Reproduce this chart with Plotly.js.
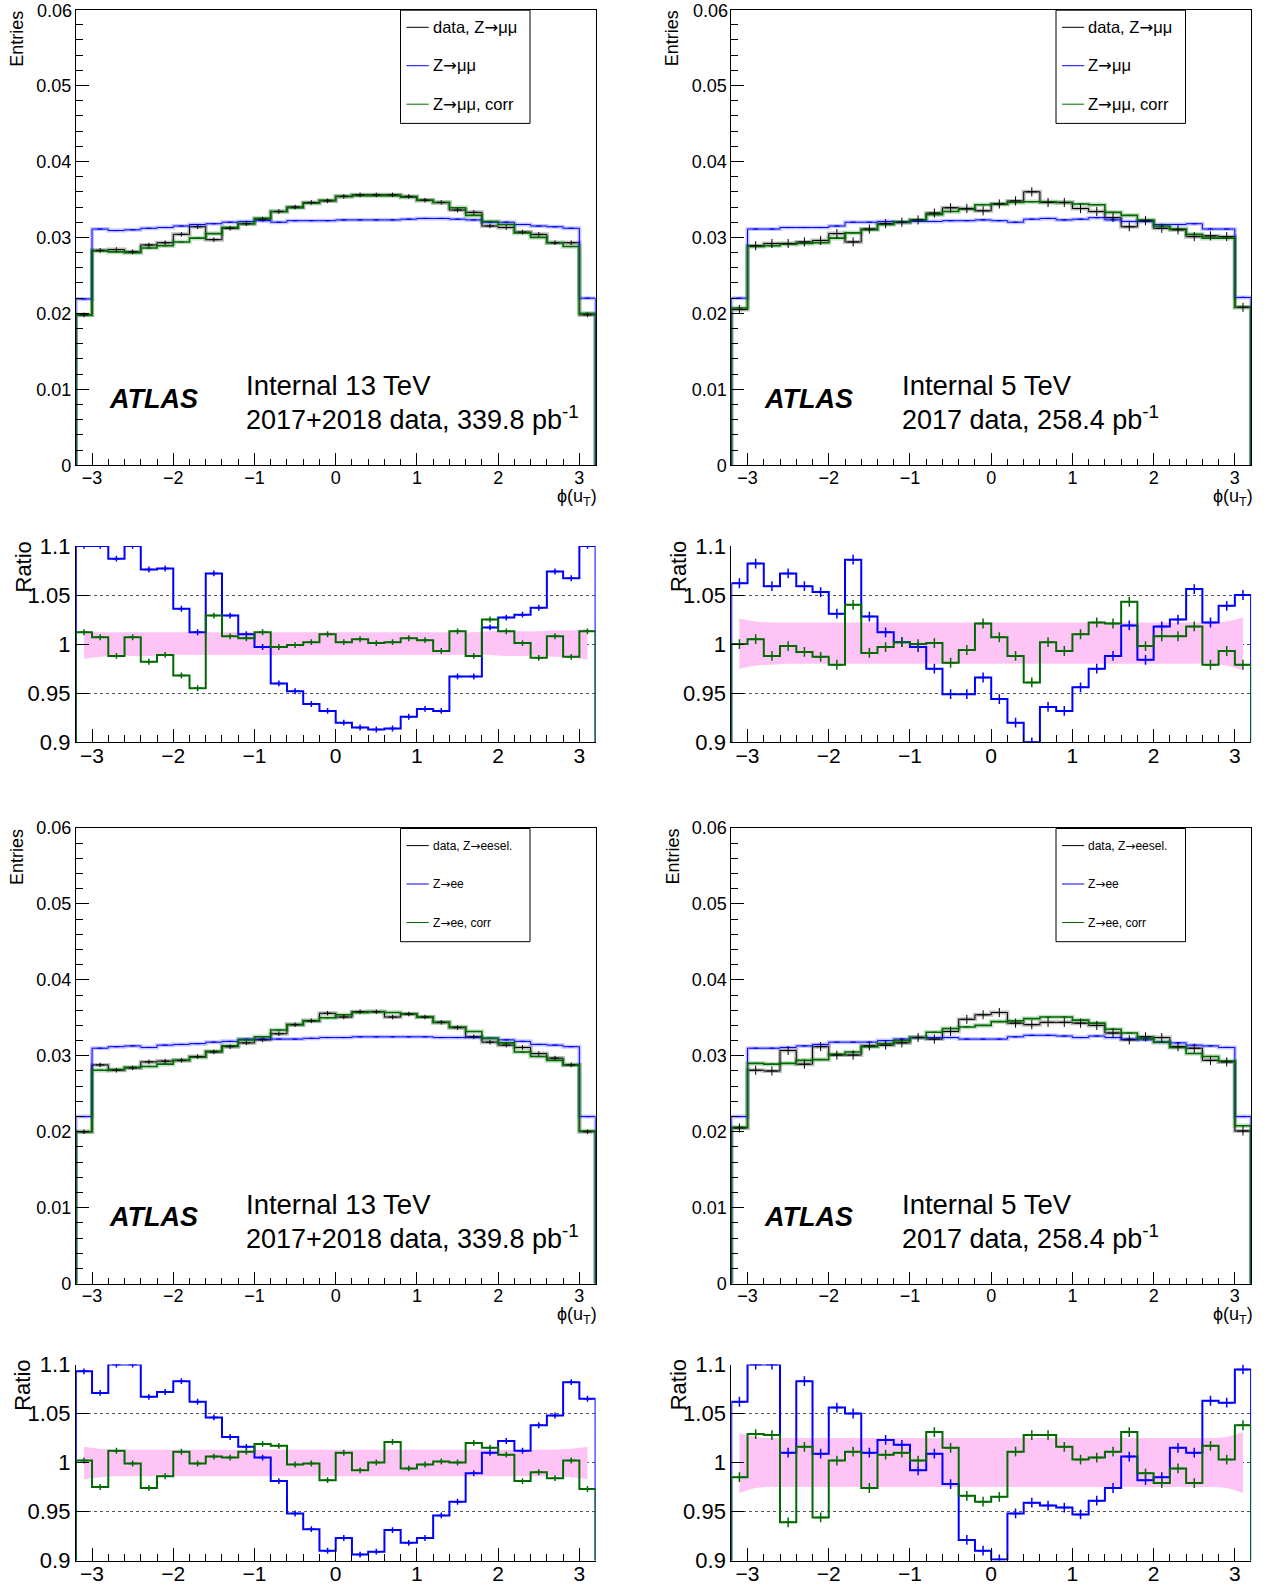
<!DOCTYPE html>
<html>
<head>
<meta charset="utf-8">
<script src="https://cdn.plot.ly/plotly-3.0.1.min.js"></script>
<style>html,body{margin:0;padding:0;background:#fff;}#chart{width:1270px;height:1586px;}</style>
</head>
<body>
<div id="chart"></div>
<script>
// ---------- bins ----------
const phiBinEdges = [-3.2,-3.0,-2.8,-2.6,-2.4,-2.2,-2.0,-1.8,-1.6,-1.4,-1.2,-1.0,-0.8,-0.6,-0.4,-0.2,0,0.2,0.4,0.6,0.8,1.0,1.2,1.4,1.6,1.8,2.0,2.2,2.4,2.6,2.8,3.0,3.2];
const phiBinCenters = [-3.1,-2.9,-2.7,-2.5,-2.3,-2.1,-1.9,-1.7,-1.5,-1.3,-1.1,-0.9,-0.7,-0.5,-0.3,-0.1,0.1,0.3,0.5,0.7,0.9,1.1,1.3,1.5,1.7,1.9,2.1,2.3,2.5,2.7,2.9,3.1];
const mainTickVals = [0,0.01,0.02,0.03,0.04,0.05,0.06];
const mainTickText = ["0","0.01","0.02","0.03","0.04","0.05","0.06"];

// ---------- Z->mumu, 13 TeV ----------
const mm13_data = [0.0198,0.0283,0.0284,0.0281,0.0290,0.0293,0.0304,0.0314,0.0297,0.0312,0.0318,0.0324,0.0334,0.0340,0.0346,0.0348,0.0354,0.0356,0.0356,0.0356,0.0354,0.0349,0.0346,0.0336,0.0333,0.0315,0.0313,0.0307,0.0304,0.0293,0.0293,0.0198];
const mm13_mc   = [0.0219,0.0311,0.0309,0.0310,0.0312,0.0313,0.0315,0.0317,0.0318,0.0320,0.0321,0.0322,0.0320,0.0322,0.0322,0.0322,0.0323,0.0323,0.0323,0.0323,0.0324,0.0325,0.0325,0.0324,0.0323,0.0320,0.0320,0.0317,0.0315,0.0314,0.0312,0.0220];
const mm13_corr = [0.0198,0.0282,0.0281,0.0280,0.0286,0.0289,0.0294,0.0299,0.0305,0.0313,0.0318,0.0325,0.0334,0.0339,0.0345,0.0349,0.0354,0.0355,0.0355,0.0355,0.0353,0.0349,0.0346,0.0339,0.0329,0.0321,0.0317,0.0306,0.0300,0.0293,0.0288,0.0200];
const mm13_ratioMC   = [1.1,1.1,1.087,1.1,1.076,1.077,1.036,1.012,1.072,1.029,1.010,0.997,0.960,0.952,0.939,0.932,0.920,0.915,0.913,0.914,0.926,0.934,0.932,0.967,0.967,1.017,1.027,1.030,1.037,1.074,1.067,1.1];
const mm13_ratioCorr = [1.012,1.007,0.988,1.007,0.982,0.989,0.968,0.955,1.029,1.008,1.006,1.012,0.997,0.999,1.002,1.010,1.002,1.005,1.001,1.002,1.006,1.004,0.993,1.013,0.988,1.025,1.013,1.001,0.986,1.008,0.987,1.013];
const mm13_bandUp = [1.013,1.012,1.012,1.012,1.012,1.012,1.012,1.012,1.012,1.012,1.012,1.012,1.012,1.012,1.012,1.012,1.012,1.012,1.012,1.012,1.012,1.012,1.012,1.012,1.012,1.013,1.013,1.013,1.013,1.014,1.014,1.016];
const mm13_bandDn = [0.985,0.987,0.988,0.988,0.988,0.989,0.989,0.989,0.989,0.989,0.989,0.989,0.989,0.989,0.989,0.989,0.989,0.989,0.989,0.989,0.989,0.989,0.989,0.989,0.989,0.989,0.988,0.988,0.988,0.987,0.986,0.984];

// ---------- Z->mumu, 5 TeV ----------
const mm5_data = [0.0205,0.0289,0.0292,0.0292,0.0294,0.0296,0.0305,0.0294,0.0311,0.0318,0.0320,0.0323,0.0332,0.0339,0.0338,0.0335,0.0344,0.0348,0.0360,0.0346,0.0346,0.0338,0.0334,0.0326,0.0314,0.0322,0.0312,0.0310,0.0301,0.0302,0.0301,0.0208];
const mm5_mc   = [0.0220,0.0311,0.0311,0.0313,0.0313,0.0313,0.0315,0.0320,0.0320,0.0321,0.0320,0.0321,0.0321,0.0322,0.0322,0.0323,0.0322,0.0320,0.0324,0.0325,0.0323,0.0324,0.0326,0.0323,0.0321,0.0321,0.0317,0.0317,0.0318,0.0311,0.0311,0.0221];
const mm5_corr = [0.0207,0.0288,0.0289,0.0291,0.0292,0.0293,0.0299,0.0306,0.0310,0.0317,0.0320,0.0323,0.0330,0.0334,0.0337,0.0343,0.0344,0.0346,0.0347,0.0347,0.0346,0.0344,0.0343,0.0333,0.0329,0.0323,0.0315,0.0311,0.0304,0.0299,0.0299,0.0208];
const mm5_ratioMC   = [1.062,1.082,1.059,1.072,1.059,1.053,1.031,1.086,1.028,1.012,1.002,0.997,0.975,0.949,0.949,0.966,0.944,0.920,0.9,0.936,0.932,0.956,0.975,0.988,1.019,0.984,1.018,1.025,1.056,1.022,1.039,1.050];
const mm5_ratioCorr = [1.0,1.005,0.988,0.998,0.992,0.987,0.979,1.040,0.991,0.997,1.002,1.0,1.001,0.981,0.994,1.021,1.007,0.988,0.961,1.002,0.993,1.010,1.022,1.021,1.043,0.998,1.008,1.008,1.018,0.979,0.993,0.979];
const mm5_bandUp = [1.026,1.023,1.022,1.022,1.022,1.022,1.022,1.022,1.022,1.022,1.022,1.022,1.022,1.022,1.022,1.022,1.022,1.022,1.022,1.022,1.022,1.022,1.022,1.022,1.022,1.022,1.022,1.022,1.022,1.022,1.023,1.027];
const mm5_bandDn = [0.975,0.978,0.979,0.980,0.980,0.980,0.980,0.980,0.980,0.980,0.980,0.980,0.980,0.980,0.980,0.980,0.980,0.980,0.980,0.980,0.980,0.980,0.980,0.980,0.980,0.980,0.980,0.980,0.980,0.980,0.978,0.973];

// ---------- Z->ee, 13 TeV ----------
const ee13_data = [0.0200,0.0288,0.0281,0.0284,0.0292,0.0293,0.0294,0.0299,0.0305,0.0312,0.0317,0.0321,0.0329,0.0341,0.0346,0.0356,0.0351,0.0358,0.0358,0.0351,0.0355,0.0351,0.0344,0.0337,0.0325,0.0318,0.0314,0.0311,0.0303,0.0297,0.0288,0.0200];
const ee13_mc   = [0.0220,0.0310,0.0312,0.0313,0.0311,0.0314,0.0315,0.0316,0.0318,0.0319,0.0322,0.0322,0.0322,0.0322,0.0323,0.0324,0.0324,0.0325,0.0325,0.0325,0.0325,0.0325,0.0324,0.0324,0.0324,0.0323,0.0321,0.0319,0.0315,0.0314,0.0312,0.0220];
const ee13_corr = [0.0200,0.0281,0.0282,0.0285,0.0286,0.0289,0.0294,0.0298,0.0306,0.0313,0.0321,0.0325,0.0334,0.0341,0.0346,0.0350,0.0354,0.0357,0.0358,0.0357,0.0355,0.0351,0.0344,0.0338,0.0332,0.0323,0.0317,0.0305,0.0299,0.0294,0.0288,0.0201];
const ee13_ratioMC   = [1.093,1.071,1.1,1.1,1.067,1.072,1.083,1.062,1.046,1.026,1.016,1.005,0.981,0.948,0.932,0.910,0.923,0.906,0.909,0.931,0.918,0.923,0.946,0.960,0.989,1.010,1.022,1.012,1.038,1.048,1.082,1.065];
const ee13_ratioCorr = [1.002,0.975,1.012,0.999,0.974,0.986,1.011,0.999,1.006,1.005,1.011,1.019,1.017,0.998,0.999,0.982,1.010,0.992,1.0,1.021,0.994,0.998,1.001,1.0,1.020,1.015,1.008,0.981,0.990,0.984,1.002,0.973];
const ee13_bandUp = [1.016,1.014,1.013,1.013,1.013,1.013,1.013,1.013,1.013,1.013,1.013,1.013,1.013,1.013,1.013,1.013,1.013,1.013,1.013,1.013,1.013,1.013,1.013,1.013,1.013,1.013,1.013,1.013,1.013,1.013,1.014,1.016];
const ee13_bandDn = [0.983,0.985,0.986,0.986,0.986,0.986,0.986,0.986,0.986,0.986,0.986,0.986,0.986,0.986,0.986,0.986,0.986,0.986,0.986,0.986,0.986,0.986,0.986,0.986,0.986,0.986,0.986,0.986,0.986,0.986,0.985,0.983];

// ---------- Z->ee, 5 TeV ----------
const ee5_data = [0.0205,0.0281,0.0280,0.0307,0.0289,0.0312,0.0301,0.0301,0.0313,0.0314,0.0317,0.0324,0.0322,0.0332,0.0348,0.0354,0.0357,0.0343,0.0341,0.0344,0.0344,0.0343,0.0340,0.0330,0.0321,0.0325,0.0324,0.0312,0.0310,0.0294,0.0292,0.0201];
const ee5_mc   = [0.0220,0.0310,0.0310,0.0311,0.0313,0.0315,0.0318,0.0318,0.0318,0.0320,0.0322,0.0324,0.0324,0.0324,0.0322,0.0322,0.0322,0.0325,0.0327,0.0327,0.0326,0.0324,0.0326,0.0324,0.0322,0.0321,0.0318,0.0317,0.0314,0.0313,0.0311,0.0220];
const ee5_corr = [0.0206,0.0290,0.0289,0.0290,0.0294,0.0295,0.0302,0.0305,0.0312,0.0316,0.0320,0.0324,0.0331,0.0336,0.0338,0.0340,0.0345,0.0346,0.0349,0.0351,0.0351,0.0347,0.0343,0.0335,0.0330,0.0323,0.0318,0.0311,0.0303,0.0299,0.0293,0.0208];
const ee5_ratioMC   = [1.062,1.1,1.1,1.010,1.083,1.009,1.056,1.050,1.010,1.023,1.018,0.992,1.009,0.978,0.921,0.910,0.901,0.948,0.959,0.956,0.954,0.947,0.961,0.974,1.006,0.982,0.985,1.015,1.010,1.063,1.061,1.095];
const ee5_ratioCorr = [0.985,1.029,1.028,0.939,1.016,0.944,1.002,1.011,0.974,1.008,1.010,1.002,1.031,1.015,0.966,0.960,0.965,1.011,1.028,1.028,1.016,1.003,1.005,1.011,1.031,0.989,0.979,0.994,0.979,1.017,1.003,1.038];
const ee5_bandUp = [1.030,1.026,1.025,1.025,1.025,1.025,1.025,1.025,1.025,1.025,1.025,1.025,1.025,1.025,1.025,1.025,1.025,1.025,1.025,1.025,1.025,1.025,1.025,1.025,1.025,1.025,1.025,1.025,1.025,1.025,1.026,1.031];
const ee5_bandDn = [0.969,0.974,0.975,0.975,0.975,0.975,0.975,0.975,0.975,0.975,0.975,0.975,0.975,0.975,0.975,0.975,0.975,0.975,0.975,0.975,0.975,0.975,0.975,0.975,0.975,0.975,0.975,0.975,0.975,0.975,0.974,0.969];

// ---------- labels ----------
const ARROW = '<span style="font-family:DejaVu Sans">\u2192</span>';
const legendMuMu = ["data, Z" + ARROW + "\u03bc\u03bc", "Z" + ARROW + "\u03bc\u03bc", "Z" + ARROW + "\u03bc\u03bc, corr"];
const legendEE = ["data, Z" + ARROW + "eesel.", "Z" + ARROW + "ee", "Z" + ARROW + "ee, corr"];
const lumiText13 = ["Internal 13 TeV", "2017+2018 data, 339.8 pb<sup>-1</sup>"];
const lumiText5 = ["Internal 5 TeV", "2017 data, 258.4 pb<sup>-1</sup>"];
const xTitle = "\u03d5(u<sub>T</sub>)";

// ---------- styling ----------
const FONT = "Liberation Sans, Arial, Helvetica, sans-serif";
const C_DATA = "#000000", C_MC = "#0000ff", C_CORR = "#006a00", C_BAND = "#ffc4f6";
const W = 1270, H = 1586;

function stepXY(vals, floor) {
  const x = [phiBinEdges[0]].concat(phiBinEdges.slice(0, vals.length)).concat([phiBinEdges[vals.length], phiBinEdges[vals.length]]);
  const y = [floor].concat(vals).concat([vals[vals.length - 1], floor]);
  return {x, y};
}
function histLine(xa, ya, vals, color, width, floor, halo) {
  const s = stepXY(vals, floor);
  const out = [];
  if (halo) out.push({type:'scatter', mode:'lines', x:s.x, y:s.y, xaxis:xa, yaxis:ya,
    line:{shape:'hv', color:halo, width:width + 3}, hoverinfo:'skip'});
  out.push({type:'scatter', mode:'lines', x:s.x, y:s.y, xaxis:xa, yaxis:ya,
    line:{shape:'hv', color:color, width:width}, hoverinfo:'skip'});
  return out;
}
function crosses(xa, ya, vals, color, err, size, thick) {
  return {type:'scatter', mode:'markers', x:phiBinCenters, y:vals, xaxis:xa, yaxis:ya,
    marker:{symbol:'line-ew', size:size, color:color, line:{color:color, width:thick}},
    error_y:{type:'constant', value:err, color:color, thickness:thick, width:0}, hoverinfo:'skip'};
}
function band(xa, ya, up, dn) {
  return [
    {type:'scatter', mode:'lines', x:phiBinCenters, y:dn, xaxis:xa, yaxis:ya, line:{shape:'spline', width:0, color:C_BAND}, hoverinfo:'skip'},
    {type:'scatter', mode:'lines', x:phiBinCenters, y:up, xaxis:xa, yaxis:ya, line:{shape:'spline', width:0, color:C_BAND}, fill:'tonexty', fillcolor:C_BAND, hoverinfo:'skip'}
  ];
}

const panels = [
  {m:['x','y'], r:['x3','y3'], data:mm13_data, mc:mm13_mc, corr:mm13_corr, rMC:mm13_ratioMC, rCorr:mm13_ratioCorr, up:mm13_bandUp, dn:mm13_bandDn, dErr:0.0003, rErr:0.003, cs:6},
  {m:['x2','y2'], r:['x4','y4'], data:mm5_data, mc:mm5_mc, corr:mm5_corr, rMC:mm5_ratioMC, rCorr:mm5_ratioCorr, up:mm5_bandUp, dn:mm5_bandDn, dErr:0.0006, rErr:0.005, cs:8},
  {m:['x5','y5'], r:['x7','y7'], data:ee13_data, mc:ee13_mc, corr:ee13_corr, rMC:ee13_ratioMC, rCorr:ee13_ratioCorr, up:ee13_bandUp, dn:ee13_bandDn, dErr:0.0003, rErr:0.003, cs:6},
  {m:['x6','y6'], r:['x8','y8'], data:ee5_data, mc:ee5_mc, corr:ee5_corr, rMC:ee5_ratioMC, rCorr:ee5_ratioCorr, up:ee5_bandUp, dn:ee5_bandDn, dErr:0.0006, rErr:0.005, cs:8}
];

let traces = [];
panels.forEach(p => {
  const [mx, my] = p.m, [rx, ry] = p.r;
  traces = traces.concat(histLine(mx, my, p.data, C_DATA, 1, 0, 'rgba(0,0,0,0.25)'));
  traces = traces.concat(histLine(mx, my, p.mc, C_MC, 1, 0, 'rgba(0,0,255,0.22)'));
  traces = traces.concat(histLine(mx, my, p.corr, C_CORR, 1.6, 0, 'rgba(0,110,0,0.22)'));
  traces.push(crosses(mx, my, p.mc, C_MC, 0.00008, 4, 1));
  traces.push(crosses(mx, my, p.corr, C_CORR, 0.00008, 4, 1));
  traces.push(crosses(mx, my, p.data, C_DATA, p.dErr, p.cs, 1));
  traces = traces.concat(band(rx, ry, p.up, p.dn));
  traces = traces.concat(histLine(rx, ry, p.rMC, C_MC, 2, 0, null));
  traces = traces.concat(histLine(rx, ry, p.rCorr, C_CORR, 2, 0, null));
  traces.push(crosses(rx, ry, p.rMC, C_MC, p.rErr, p.cs, 1.5));
  traces.push(crosses(rx, ry, p.rCorr, C_CORR, p.rErr, p.cs, 1.5));
});

// domains (pixel -> paper)
const px = v => v / W, py = v => 1 - v / H;
const domL = [px(75.8), px(595.6)], domR = [px(731.3), px(1251.1)];
const dMain1 = [py(465.3), py(9.5)], dRat1 = [py(742.3), py(545.9)];
const dMain2 = [py(1283.7), py(827.9)], dRat2 = [py(1560.5), py(1364.5)];

function mainX(dom, anchor) {
  return {domain:dom, anchor:anchor, range:[-3.2, 3.2], tick0:0, dtick:1, ticks:'inside', ticklen:12, tickcolor:'#000', tickwidth:1,
    minor:{ticks:'inside', dtick:0.2, tick0:0, ticklen:6, tickcolor:'#000', tickwidth:1, showgrid:false},
    showline:true, linecolor:'#000', linewidth:1, mirror:true, showgrid:false, zeroline:false, ticklabelstandoff:-4,
    tickfont:{family:FONT, size:18, color:'#000'}, fixedrange:true};
}
function mainY(dom, anchor) {
  return {domain:dom, anchor:anchor, range:[0, 0.06], tickmode:'array', tickvals:mainTickVals, ticktext:mainTickText, ticks:'inside', ticklen:13, tickcolor:'#000', tickwidth:1,
    minor:{ticks:'inside', dtick:0.002, tick0:0, ticklen:7, tickcolor:'#000', tickwidth:1, showgrid:false},
    showline:true, linecolor:'#000', linewidth:1, mirror:true, showgrid:false, zeroline:false,
    tickfont:{family:FONT, size:18, color:'#000'}, fixedrange:true};
}
function ratX(dom, anchor) {
  return {domain:dom, anchor:anchor, range:[-3.2, 3.2], tick0:0, dtick:1, ticks:'inside', ticklen:13, tickcolor:'#000', tickwidth:1,
    minor:{ticks:'inside', dtick:0.2, tick0:0, ticklen:7, tickcolor:'#000', tickwidth:1, showgrid:false},
    showline:true, linecolor:'#000', linewidth:1, mirror:false, showgrid:false, zeroline:false, ticklabelstandoff:-6,
    tickfont:{family:FONT, size:21, color:'#000'}, fixedrange:true};
}
function ratY(dom, anchor) {
  return {domain:dom, anchor:anchor, range:[0.9, 1.1], tick0:0.9, dtick:0.05, ticks:'inside', ticklen:13, tickcolor:'#000', tickwidth:1,
    showline:true, linecolor:'#000', linewidth:1, mirror:false, showgrid:true, gridcolor:'#555', griddash:'dot', gridwidth:1, zeroline:false,
    tickfont:{family:FONT, size:22, color:'#000'}, fixedrange:true};
}

const annotations = [];
const shapes = [];
function txt(x, y, text, size, opts) {
  annotations.push(Object.assign({xref:'paper', yref:'paper', x:px(x), y:py(y), text:text, showarrow:false,
    font:{family:FONT, size:size, color:'#000'}, xanchor:'left', yanchor:'middle', borderpad:0}, opts || {}));
}

// panel decorations
const cols = [{x0:0, lumi13:true}, {x0:655.5, lumi13:false}];
const rows = [{y0:0, leg:legendMuMu, legSize:16.5}, {y0:818.3, leg:legendEE, legSize:12}];
rows.forEach((r, ri) => {
  cols.forEach(c => {
    txt(17.2 + c.x0, 38.5 + r.y0, 'Entries', 18, {xanchor:'center', textangle:-90});
    txt(22.5 + c.x0, 567 + r.y0, 'Ratio', 22, {xanchor:'center', textangle:-90});
    txt(598 + c.x0, 497 + r.y0, xTitle, 18, {xanchor:'right'});
    txt(107.5 + c.x0, 399 + r.y0, '<b><i>ATLAS</i></b>', 27);
    const lt = c.lumi13 ? lumiText13 : lumiText5;
    txt(245 + c.x0, 386 + r.y0, lt[0], 27.5);
    txt(245 + c.x0, 418.5 + r.y0, lt[1], 27);
    // top "0.06" tick label of the upper row (Plotly drops it at the page edge)
    if (ri === 0) txt(73 + c.x0, 10.5, mainTickText[6], 18, {xanchor:'right'});
    shapes.push({type:'rect', xref:'paper', yref:'paper', x0:px(400.5 + c.x0), x1:px(530 + c.x0), y0:py(10.2 + r.y0), y1:py(123.4 + r.y0),
      line:{color:'#000', width:1}, fillcolor:'#fff', layer:'above'});
    const legColors = [C_DATA, C_MC, C_CORR];
    const legY = [27.3, 65.7, 104.2];
    legColors.forEach((col, i) => {
      shapes.push({type:'line', xref:'paper', yref:'paper', x0:px(406.5 + c.x0), x1:px(428.7 + c.x0), y0:py(legY[i] + r.y0), y1:py(legY[i] + r.y0),
        line:{color:col, width:1}, layer:'above'});
      txt(431.5 + c.x0, legY[i] + r.y0, r.leg[i], r.legSize);
    });
  });
});

const layout = {
  width:W, height:H, margin:{l:0, r:0, t:0, b:0}, paper_bgcolor:'#fff', plot_bgcolor:'rgba(0,0,0,0)',
  showlegend:false, hovermode:false, font:{family:FONT, color:'#000'},
  xaxis:mainX(domL,'y'), yaxis:mainY(dMain1,'x'),
  xaxis2:mainX(domR,'y2'), yaxis2:mainY(dMain1,'x2'),
  xaxis3:ratX(domL,'y3'), yaxis3:ratY(dRat1,'x3'),
  xaxis4:ratX(domR,'y4'), yaxis4:ratY(dRat1,'x4'),
  xaxis5:mainX(domL,'y5'), yaxis5:mainY(dMain2,'x5'),
  xaxis6:mainX(domR,'y6'), yaxis6:mainY(dMain2,'x6'),
  xaxis7:ratX(domL,'y7'), yaxis7:ratY(dRat2,'x7'),
  xaxis8:ratX(domR,'y8'), yaxis8:ratY(dRat2,'x8'),
  annotations:annotations, shapes:shapes
};

Plotly.newPlot('chart', traces, layout, {staticPlot:true, displayModeBar:false});
</script>
</body>
</html>
